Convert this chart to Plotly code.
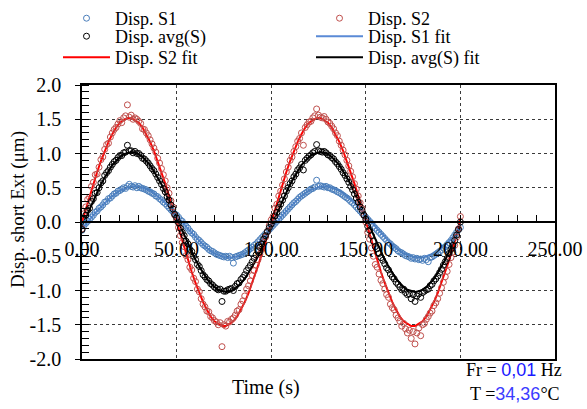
import plotly.graph_objects as go

# ---------------- data ----------------
time_s = list(range(0, 201))  # sample times (s), 1 s step

disp_s1 = [
    -0.12, -0.05, -0.02, 0.01, 0.04, 0.07, 0.10, 0.14, 0.16, 0.20, 0.22, 0.25, 0.29, 0.30, 0.34, 0.35, 0.38, 0.41, 0.42, 0.45, 0.46, 0.48, 0.50, 0.49, 0.52, 0.55,
    0.52, 0.51, 0.53, 0.50, 0.52, 0.50, 0.49, 0.48, 0.47, 0.45, 0.44, 0.42, 0.41, 0.38, 0.37, 0.34, 0.32, 0.29, 0.27, 0.24, 0.21, 0.18, 0.15, 0.12, 0.10,
    0.07, 0.03, 0.01, -0.03, -0.06, -0.09, -0.13, -0.16, -0.18, -0.22, -0.25, -0.27, -0.30, -0.33, -0.35, -0.37, -0.40, -0.42, -0.43, -0.45, -0.47, -0.48, -0.49, -0.50, -0.51,
    -0.50, -0.52, -0.50, -0.52, -0.60, -0.51, -0.50, -0.49, -0.48, -0.47, -0.45, -0.43, -0.41, -0.39, -0.37, -0.34, -0.32, -0.29, -0.26, -0.23, -0.20, -0.17, -0.14, -0.11, -0.08,
    -0.05, -0.02, 0.01, 0.04, 0.07, 0.10, 0.13, 0.16, 0.19, 0.22, 0.25, 0.28, 0.30, 0.33, 0.36, 0.38, 0.40, 0.42, 0.44, 0.46, 0.48, 0.49, 0.51, 0.61, 0.52,
    0.53, 0.52, 0.51, 0.52, 0.50, 0.50, 0.48, 0.47, 0.46, 0.44, 0.43, 0.41, 0.39, 0.37, 0.35, 0.33, 0.30, 0.28, 0.25, 0.22, 0.19, 0.16, 0.13, 0.10, 0.07,
    0.04, 0.01, -0.02, -0.06, -0.09, -0.12, -0.15, -0.18, -0.21, -0.24, -0.27, -0.30, -0.32, -0.35, -0.37, -0.39, -0.42, -0.44, -0.45, -0.47, -0.49, -0.50, -0.51, -0.53, -0.52,
    -0.54, -0.53, -0.55, -0.54, -0.56, -0.53, -0.55, -0.58, -0.52, -0.51, -0.49, -0.47, -0.45, -0.43, -0.41, -0.38, -0.36, -0.33, -0.30, -0.27, -0.23, -0.19, -0.15, -0.11, -0.08,
]

disp_s2 = [
    -0.10, 0.12, 0.22, 0.33, 0.36, 0.52, 0.58, 0.69, 0.70, 0.80, 0.91, 0.95, 1.06, 1.13, 1.15, 1.24, 1.30, 1.35, 1.38, 1.43, 1.48, 1.45, 1.52, 1.55, 1.71, 1.53,
    1.56, 1.50, 1.52, 1.50, 1.47, 1.44, 1.36, 1.35, 1.30, 1.26, 1.20, 1.14, 1.08, 1.02, 0.93, 0.86, 0.78, 0.69, 0.60, 0.50, 0.42, 0.31, 0.22, 0.10, 0.02,
    -0.08, -0.20, -0.30, -0.36, -0.49, -0.55, -0.66, -0.70, -0.82, -0.87, -0.98, -1.02, -1.12, -1.20, -1.24, -1.30, -1.31, -1.38, -1.40, -1.44, -1.46, -1.50, -1.47, -1.82, -1.50,
    -1.52, -1.45, -1.46, -1.42, -1.40, -1.36, -1.30, -1.28, -1.20, -1.15, -1.08, -0.98, -0.93, -0.86, -0.78, -0.71, -0.63, -0.55, -0.47, -0.40, -0.30, -0.22, -0.14, -0.05, 0.03,
    0.08, 0.20, 0.26, 0.38, 0.45, 0.54, 0.63, 0.73, 0.80, 0.90, 0.95, 1.03, 1.10, 1.18, 1.22, 1.30, 1.12, 1.38, 1.42, 1.46, 1.47, 1.52, 1.55, 1.65, 1.56,
    1.53, 1.52, 1.54, 1.50, 1.46, 1.44, 1.40, 1.36, 1.30, 1.26, 1.18, 1.12, 1.05, 0.98, 0.90, 0.82, 0.74, 0.66, 0.56, 0.48, 0.38, 0.28, 0.20, 0.10, 0.00,
    -0.15, -0.25, -0.38, -0.50, -0.62, -0.66, -0.76, -0.85, -0.90, -0.98, -1.06, -1.10, -1.20, -1.25, -1.28, -1.36, -1.40, -1.45, -1.52, -1.48, -1.56, -1.62, -1.58, -1.70, -1.60,
    -1.78, -1.62, -1.55, -1.66, -1.50, -1.48, -1.42, -1.38, -1.33, -1.30, -1.22, -1.18, -1.12, -1.04, -0.96, -0.88, -0.80, -0.72, -0.62, -0.52, -0.44, -0.34, -0.22, -0.10, 0.08,
]

disp_avg = [
    -0.11, 0.04, 0.10, 0.17, 0.20, 0.30, 0.34, 0.42, 0.43, 0.50, 0.57, 0.60, 0.68, 0.72, 0.75, 0.80, 0.84, 0.88, 0.90, 0.94, 0.97, 0.97, 1.01, 1.02, 1.12, 1.04,
    1.04, 1.01, 1.03, 1.00, 1.00, 0.97, 0.93, 0.92, 0.89, 0.86, 0.82, 0.78, 0.75, 0.70, 0.65, 0.60, 0.55, 0.49, 0.44, 0.37, 0.32, 0.25, 0.19, 0.11, 0.06,
    -0.01, -0.09, -0.15, -0.20, -0.28, -0.32, -0.40, -0.43, -0.50, -0.55, -0.62, -0.65, -0.71, -0.77, -0.80, -0.84, -0.86, -0.90, -0.92, -0.95, -0.97, -0.99, -0.98, -1.16, -1.01,
    -1.01, -0.99, -0.98, -0.97, -1.00, -0.94, -0.90, -0.89, -0.84, -0.81, -0.77, -0.71, -0.67, -0.63, -0.58, -0.53, -0.48, -0.42, -0.37, -0.32, -0.25, -0.20, -0.14, -0.08, -0.03,
    0.02, 0.09, 0.14, 0.21, 0.26, 0.32, 0.38, 0.45, 0.50, 0.56, 0.60, 0.66, 0.70, 0.76, 0.79, 0.84, 0.76, 0.90, 0.93, 0.96, 0.98, 1.01, 1.03, 1.13, 1.04,
    1.03, 1.02, 1.03, 1.01, 0.98, 0.97, 0.94, 0.92, 0.88, 0.85, 0.81, 0.77, 0.72, 0.68, 0.63, 0.58, 0.52, 0.47, 0.41, 0.35, 0.29, 0.22, 0.17, 0.10, 0.04,
    -0.06, -0.12, -0.20, -0.28, -0.36, -0.39, -0.46, -0.52, -0.56, -0.61, -0.67, -0.70, -0.76, -0.80, -0.83, -0.88, -0.91, -0.95, -0.99, -0.98, -1.03, -1.06, -1.05, -1.12, -1.06,
    -1.16, -1.08, -1.05, -1.10, -1.03, -1.01, -0.99, -0.98, -0.93, -0.91, -0.86, -0.83, -0.79, -0.74, -0.69, -0.63, -0.58, -0.53, -0.46, -0.40, -0.34, -0.27, -0.19, -0.11, 0.00,
]

fit_time = list(range(0, 201, 2))  # fit curve sample times (s)

fit_s1 = [
    -0.10, -0.03, 0.03, 0.10, 0.16, 0.22, 0.28, 0.33, 0.38, 0.42, 0.46, 0.48, 0.50, 0.52, 0.52, 0.52, 0.50, 0.48, 0.46, 0.42, 0.38, 0.33, 0.28, 0.22, 0.16, 0.10,
    0.03, -0.03, -0.10, -0.16, -0.22, -0.28, -0.33, -0.38, -0.42, -0.46, -0.48, -0.50, -0.52, -0.52, -0.52, -0.50, -0.48, -0.46, -0.42, -0.38, -0.33, -0.28, -0.22, -0.16, -0.10,
    -0.03, 0.03, 0.10, 0.16, 0.22, 0.28, 0.33, 0.38, 0.42, 0.46, 0.48, 0.50, 0.52, 0.52, 0.52, 0.50, 0.48, 0.46, 0.42, 0.38, 0.33, 0.28, 0.22, 0.16, 0.10,
    0.03, -0.03, -0.10, -0.16, -0.22, -0.28, -0.33, -0.38, -0.42, -0.46, -0.48, -0.50, -0.52, -0.52, -0.52, -0.50, -0.48, -0.46, -0.42, -0.38, -0.33, -0.28, -0.22, -0.16, -0.10,
]

fit_s2 = [
    0.00, 0.19, 0.38, 0.56, 0.73, 0.89, 1.04, 1.17, 1.28, 1.38, 1.45, 1.49, 1.52, 1.52, 1.49, 1.45, 1.38, 1.28, 1.17, 1.04, 0.89, 0.73, 0.56, 0.38, 0.19, 0.00,
    -0.19, -0.38, -0.56, -0.73, -0.89, -1.04, -1.17, -1.28, -1.38, -1.45, -1.49, -1.52, -1.52, -1.49, -1.45, -1.38, -1.28, -1.17, -1.04, -0.89, -0.73, -0.56, -0.38, -0.19, 0.00,
    0.19, 0.38, 0.56, 0.73, 0.89, 1.04, 1.17, 1.28, 1.38, 1.45, 1.49, 1.52, 1.52, 1.49, 1.45, 1.38, 1.28, 1.17, 1.04, 0.89, 0.73, 0.56, 0.38, 0.19, 0.00,
    -0.19, -0.38, -0.56, -0.73, -0.89, -1.04, -1.17, -1.28, -1.38, -1.45, -1.49, -1.52, -1.52, -1.49, -1.45, -1.38, -1.28, -1.17, -1.04, -0.89, -0.73, -0.56, -0.38, -0.19, 0.05,
]

fit_avg = [
    -0.06, 0.06, 0.19, 0.32, 0.43, 0.55, 0.65, 0.74, 0.83, 0.89, 0.95, 0.99, 1.01, 1.02, 1.01, 0.99, 0.95, 0.89, 0.83, 0.74, 0.65, 0.55, 0.43, 0.32, 0.19, 0.06,
    -0.06, -0.19, -0.32, -0.43, -0.55, -0.65, -0.74, -0.83, -0.89, -0.95, -0.99, -1.01, -1.02, -1.01, -0.99, -0.95, -0.89, -0.83, -0.74, -0.65, -0.55, -0.43, -0.32, -0.19, -0.06,
    0.06, 0.19, 0.32, 0.43, 0.55, 0.65, 0.74, 0.83, 0.89, 0.95, 0.99, 1.01, 1.02, 1.01, 0.99, 0.95, 0.89, 0.83, 0.74, 0.65, 0.55, 0.43, 0.32, 0.19, 0.06,
    -0.06, -0.19, -0.32, -0.43, -0.55, -0.65, -0.74, -0.83, -0.89, -0.95, -0.99, -1.01, -1.02, -1.01, -0.99, -0.95, -0.89, -0.83, -0.74, -0.65, -0.55, -0.43, -0.32, -0.19, -0.06,
]

x_tick_vals = [0, 50, 100, 150, 200, 250]
x_tick_text = ["0.00", "50.00", "100.00", "150.00", "200.00", "250.00"]
y_tick_vals = [-2.0, -1.5, -1.0, -0.5, 0.0, 0.5, 1.0, 1.5, 2.0]
y_tick_text = ["-2.0", "-1.5", "-1.0", "-0.5", "0.0", "0.5", "1.0", "1.5", "2.0"]

# ---------------- figure ----------------
SERIF = "Liberation Serif"
C_S1 = "#4a7ebb"
C_S2 = "#c0504d"
C_S1_FIT = "#5a8ad6"

W, H = 587, 409
ML, MT = 82, 85
PW, PH = 473, 274

fig = go.Figure()
mk = dict(symbol="circle-open", size=6, line=dict(width=1))

# fit lines first (drawn under the markers); each legend entry has its own box
fig.add_trace(go.Scatter(x=fit_time, y=fit_s1, mode="lines", name="Disp. S1 fit",
                         line=dict(color=C_S1_FIT, width=2), legend="legend4"))
fig.add_trace(go.Scatter(x=fit_time, y=fit_s2, mode="lines", name="Disp. S2 fit",
                         line=dict(color="#ff0000", width=2), legend="legend5"))
fig.add_trace(go.Scatter(x=fit_time, y=fit_avg, mode="lines", name="Disp. avg(S) fit",
                         line=dict(color="black", width=2), legend="legend6"))
fig.add_trace(go.Scatter(x=time_s, y=disp_s1, mode="markers", name="Disp. S1",
                         marker=dict(mk, color=C_S1), legend="legend"))
fig.add_trace(go.Scatter(x=time_s, y=disp_s2, mode="markers", name="Disp. S2",
                         marker=dict(mk, color=C_S2), legend="legend2"))
fig.add_trace(go.Scatter(x=time_s, y=disp_avg, mode="markers", name="Disp. avg(S)",
                         marker=dict(mk, color="black"), legend="legend3"))
# carrier for the zero-crossing time axis
fig.add_trace(go.Scatter(x=[], y=[], xaxis="x2", yaxis="y", showlegend=False, hoverinfo="skip"))

grid = dict(showgrid=True, gridcolor="#3a3a3a", gridwidth=1, griddash="dot")
tfont = dict(family=SERIF, size=20, color="black")
lfont = dict(family=SERIF, size=18, color="black")

COL_X = [58, 311]
ROW_TOP = [-5, 18, 39]


def item_legend(col, row):
    return dict(xref="container", yref="container", x=COL_X[col] / W, y=1 - ROW_TOP[row] / H,
                xanchor="left", yanchor="top", orientation="v", font=lfont,
                bgcolor="rgba(0,0,0,0)", itemwidth=47)


fig.update_layout(
    width=W, height=H,
    margin=dict(l=ML, r=W - ML - PW, t=MT, b=H - MT - PH, autoexpand=False),
    paper_bgcolor="white", plot_bgcolor="white",
    font=dict(family=SERIF, size=19, color="black"),
    xaxis=dict(range=[0, 250], tickvals=x_tick_vals, showticklabels=False, ticks="",
               showline=True, linecolor="black", linewidth=1.5, mirror=True, zeroline=False, **grid),
    xaxis2=dict(range=[0, 250], overlaying="x", anchor="free", position=0.5, side="bottom",
                tickvals=x_tick_vals, ticktext=x_tick_text, showgrid=False, zeroline=False,
                showline=True, linecolor="black", linewidth=1.5,
                ticks="inside", ticklen=6, tickcolor="black",
                minor=dict(dtick=10, tick0=0, ticks="inside", ticklen=6, tickcolor="black"),
                tickfont=tfont, ticklabelstandoff=9),
    yaxis=dict(range=[-2, 2], tickvals=y_tick_vals, ticktext=y_tick_text,
               showline=True, linecolor="black", linewidth=1.5, mirror=True, zeroline=False,
               ticks="outside", ticklen=5, tickcolor="black",
               minor=dict(dtick=0.1, tick0=0, ticks="inside", ticklen=7, tickcolor="black", showgrid=False),
               tickfont=tfont, ticklabelstandoff=10, **grid),
    legend=item_legend(0, 0),
    legend2=item_legend(1, 0),
    legend3=item_legend(0, 1),
    legend4=item_legend(1, 1),
    legend5=item_legend(0, 2),
    legend6=item_legend(1, 2),
    showlegend=True,
)

# axis titles
fig.add_annotation(xref="paper", yref="paper", x=(18 - ML) / PW, y=0.544, textangle=-90,
                   xanchor="center", yanchor="middle", showarrow=False,
                   text="Disp. short Ext (\u03bcm)", font=dict(family=SERIF, size=19, color="black"))
fig.add_annotation(xref="paper", yref="paper", x=(266 - ML) / PW, y=(ML + PH + 3 - 387) / PH,
                   xanchor="center", yanchor="middle", showarrow=False,
                   text="Time (s)", font=tfont)

fig.add_annotation(xref="paper", yref="paper", x=(564 - ML) / PW, y=(359 - 370) / PH,
                   xanchor="right", yanchor="middle", showarrow=False,
                   text="Fr = <span style='color:#1a1aff; font-family:Liberation Sans'>0,01</span> Hz",
                   font=dict(size=18, family=SERIF, color="black"))
fig.add_annotation(xref="paper", yref="paper", x=(562 - ML) / PW, y=(359 - 394) / PH,
                   xanchor="right", yanchor="middle", showarrow=False,
                   text="T =<span style='color:#3b3bff; font-family:Liberation Sans'>34,36</span>\u00b0C",
                   font=dict(size=18, family=SERIF, color="black"))

fig.write_html("out.html", config={"displayModeBar": False},
               post_script="document.body.style.margin='0px';")
